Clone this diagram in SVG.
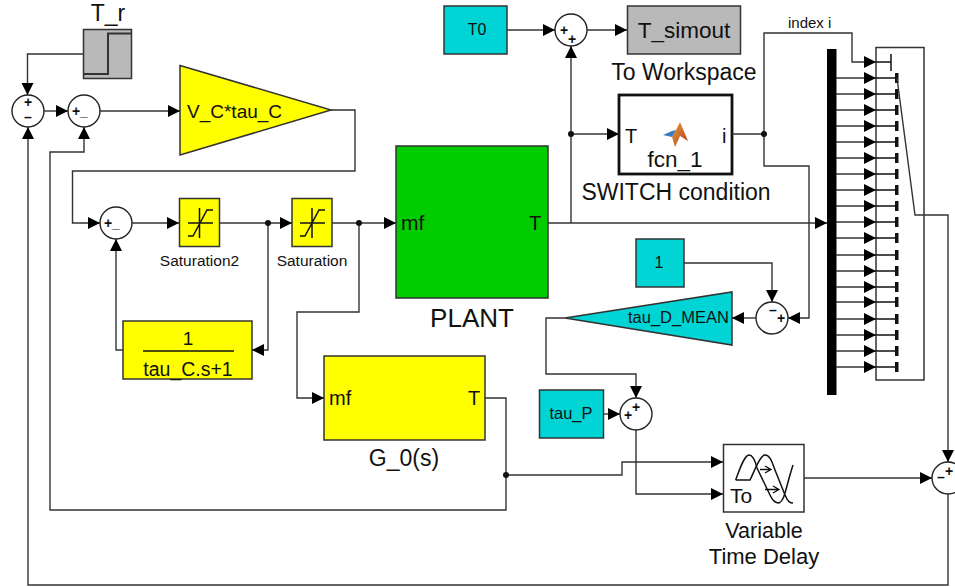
<svg xmlns="http://www.w3.org/2000/svg" width="955" height="587" viewBox="0 0 955 587">
<style>
text{font-family:"Liberation Sans",Arial,sans-serif;fill:#111}
.m{text-anchor:middle}
.b{stroke:#333;stroke-width:1.5}
.y{fill:#ffff00}.c{fill:#00d4d4}.g{fill:#b9b9b9}.w{fill:#fff}
.s{fill:#fff;stroke:#222;stroke-width:1.4}
.p{font-size:14px;text-anchor:middle;font-weight:bold}
.i{fill:none;stroke:#111;stroke-width:1.5}
.e{fill:none;stroke:#333;stroke-width:1.4;marker-end:url(#h)}
.t{fill:#111}
</style>
<defs>
<marker id="h" markerUnits="userSpaceOnUse" markerWidth="13" markerHeight="13" refX="12" refY="6" orient="auto"><path d="M0,0L12,6L0,12z" fill="#000"/></marker>
<linearGradient id="ml" x1="0" y1="0" x2="1" y2="1"><stop offset="0" stop-color="#e8a040"/><stop offset="1" stop-color="#b03a18"/></linearGradient>
</defs>
<rect width="955" height="587" fill="#fff"/>
<g id="T_r"><rect class="b g" x="83.500" y="29.500" width="48" height="49"/><path d="M84,74H108V33.500H132" fill="none" stroke="#333" stroke-width="2"/><text class="m" x="108" y="21" font-size="23">T_r</text></g>
<g id="sum1"><circle class="s" cx="28" cy="111" r="16"/><text class="p" x="28" y="107">+</text><text class="p" x="28" y="122">–</text></g>
<g id="sum2"><circle class="s" cx="84" cy="111" r="16"/><text class="p" x="76" y="116">+</text><text class="p" x="84" y="116">_</text></g>
<g id="gain"><path class="b y" d="M180,65.500L331,110L180,155z"/><text x="187" y="118" font-size="19">V_C*tau_C</text></g>
<g id="sum3"><circle class="s" cx="116" cy="223" r="16"/><text class="p" x="108" y="228">+</text><text class="p" x="116" y="228">_</text></g>
<g id="Saturation2"><rect class="b y" x="179.500" y="198.500" width="40" height="48"/><path class="i" d="M188,223H213M199.500,208V238M188,236H193L207,210H213"/><text class="m" x="199.500" y="266" font-size="15.500">Saturation2</text></g>
<g id="Saturation"><rect class="b y" x="292" y="198.500" width="40" height="48"/><path class="i" d="M300,223H325M312,208V238M300,236H305L319,210H325"/><text class="m" x="312" y="266" font-size="15.500">Saturation</text></g>
<g id="PLANT"><rect class="b" fill="#00cc00" x="396" y="146" width="152" height="152"/><text x="401" y="230" font-size="21">mf</text><text x="529" y="230" font-size="20">T</text><text class="m" x="472" y="327" font-size="26">PLANT</text></g>
<g id="tf"><rect class="b y" x="123" y="321" width="129" height="58"/><path d="M143,351H234" stroke="#111" stroke-width="1.500"/><text class="m" x="188" y="345" font-size="19">1</text><text class="m" x="188" y="376" font-size="19.500">tau_C.s+1</text></g>
<g id="G_0"><rect class="b y" x="324" y="356" width="161" height="84"/><text x="329" y="405" font-size="20">mf</text><text x="468" y="405" font-size="20">T</text><text class="m" x="404" y="466" font-size="23">G_0(s)</text></g>
<g id="T0"><rect class="b c" x="444" y="6" width="63" height="48"/><text class="m" x="477" y="35" font-size="16">T0</text></g>
<g id="sum4"><circle class="s" cx="571" cy="30" r="16"/><text class="p" x="564" y="35">+</text><text class="p" x="572" y="44">+</text></g>
<g id="T_simout"><rect class="b g" x="627.500" y="6" width="113" height="48"/><text class="m" x="684" y="38" font-size="22.500">T_simout</text><text class="m" x="684" y="80" font-size="23">To Workspace</text></g>
<g id="fcn_1"><rect x="619" y="95" width="113" height="79" fill="#fff" stroke="#111" stroke-width="2.800"/><path d="M680,122L688,141L680,136L675,147L672,137L676,130z" fill="url(#ml)"/><path d="M663,135L672,131L676,130L672,137z" fill="#3a7cc0"/><text x="625" y="143" font-size="20">T</text><text x="722" y="143" font-size="20">i</text><text class="m" x="675" y="167" font-size="22.500">fcn_1</text><text class="m" x="676" y="200" font-size="23">SWITCH condition</text></g>
<g id="const1"><rect class="b c" x="636" y="239" width="48" height="48"/><text class="m" x="659" y="268" font-size="16">1</text></g>
<g id="sum5"><circle class="s" cx="772" cy="318" r="16"/><text class="p" x="773" y="315">–</text><text class="p" x="781" y="323">+</text></g>
<g id="tau_D_MEAN"><path class="b c" d="M732,292V345L565,318z"/><text x="628" y="323" font-size="16.500">tau_D_MEAN</text></g>
<g id="tau_P"><rect class="b c" x="539.500" y="390" width="64" height="48"/><text class="m" x="571" y="419" font-size="16.500">tau_P</text></g>
<g id="sum6"><circle class="s" cx="636" cy="414" r="16"/><text class="p" x="628" y="420">+</text><text class="p" x="636" y="412">+</text></g>
<g id="delay"><rect class="b w" x="723.500" y="444.500" width="80.500" height="67.500"/><path class="i" d="M735.700,480C741,465 745,455 749,455C753,455 755,460 757,468L770,495C773,502 776,503 779,503C785,500 785,490 793,465"/><path class="i" d="M735.700,480H750C755,470 760,455 765,455C770,455 772,462 775,470L785,495C788,502 790,503 793,503"/><path d="M760,469.500H770M765,466L771,469.500L765,473M765,489.500H778M773,486L779,489.500L773,493" fill="none" stroke="#111" stroke-width="1.300"/><text x="730" y="503" font-size="21">To</text><text class="m" x="764" y="538" font-size="21.500">Variable</text><text class="m" x="764" y="564" font-size="22">Time Delay</text></g>
<g id="bus"><rect x="827" y="49" width="9.500" height="346" fill="#000"/></g>
<g id="switch"><rect class="b w" x="876" y="47.500" width="48" height="332.500"/>
<path d="M876,62H891M891,54V71" fill="none" stroke="#111" stroke-width="1.500"/>
<path fill="#111" d="M895,73h3.500v10h-3.500zM895,89h3.500v10h-3.500zM895,105h3.500v10h-3.500zM895,121h3.500v10h-3.500zM895,137h3.500v10h-3.500zM895,153h3.500v10h-3.500zM895,169h3.500v10h-3.500zM895,185h3.500v10h-3.500zM895,201h3.500v10h-3.500zM895,217h3.500v10h-3.500zM895,233h3.500v10h-3.500zM895,250h3.500v10h-3.500zM895,266h3.500v10h-3.500zM895,282h3.500v10h-3.500zM895,297h3.500v10h-3.500zM895,314h3.500v10h-3.500zM895,330h3.500v10h-3.500zM895,346h3.500v10h-3.500zM895,362h3.500v10h-3.500z"/>
<path stroke="#111" stroke-width="1.500" d="M876,78H896M876,94H896M876,110H896M876,126H896M876,142H896M876,158H896M876,174H896M876,190H896M876,206H896M876,222H896M876,238H896M876,255H896M876,271H896M876,287H896M876,302H896M876,319H896M876,335H896M876,351H896M876,367H896"/>
</g>
<g id="sum7"><circle class="s" cx="948" cy="478" r="16"/><text class="p" x="949" y="476">+</text><text class="p" x="941" y="482">–</text></g>
<g id="connectors">
<path class="e" d="M83,54H27.500V95"/>
<path class="e" d="M44,111H68"/>
<path class="e" d="M100,111H180"/>
<path class="e" d="M331,110H355V171H72.500V223H100"/>
<path class="e" d="M132,223H179"/>
<path class="e" d="M220,223H292"/>
<path class="e" d="M332,223H396"/>
<path class="e" d="M268,223V350H252"/>
<path class="e" d="M123,350H116V239"/>
<path class="e" d="M359,223V312H297V398H324"/>
<path class="e" d="M485,398H506V510H50V152H84V127"/>
<path class="e" d="M506,475H622V462H723"/>
<path class="e" d="M636,430V494H723"/>
<path class="e" d="M604,414H620"/>
<path class="e" d="M565,318H546V374H636V398"/>
<path class="e" d="M684,263H772V302"/>
<path class="e" d="M756,318H732"/>
<path class="e" d="M764,134V166H809V318H788"/>
<path class="e" d="M732,134H764V33H852V62H876"/>
<path class="e" d="M571,223V46"/>
<path class="e" d="M571,134H619"/>
<path class="e" d="M507,30H555"/>
<path class="e" d="M587,30H627"/>
<path class="e" d="M548,223H827"/>
<path class="e" d="M804,478H932"/>
<path class="e" d="M897,78L915,215H948V462"/>
<path class="e" d="M948,494V585H28V127"/>
<path class="e" d="M836,78H876"/><path class="e" d="M836,94H876"/><path class="e" d="M836,110H876"/><path class="e" d="M836,126H876"/><path class="e" d="M836,142H876"/><path class="e" d="M836,158H876"/><path class="e" d="M836,174H876"/><path class="e" d="M836,190H876"/><path class="e" d="M836,206H876"/><path class="e" d="M836,222H876"/><path class="e" d="M836,238H876"/><path class="e" d="M836,255H876"/><path class="e" d="M836,271H876"/><path class="e" d="M836,287H876"/><path class="e" d="M836,302H876"/><path class="e" d="M836,319H876"/><path class="e" d="M836,335H876"/><path class="e" d="M836,351H876"/><path class="e" d="M836,367H876"/>
<circle class="t" cx="268" cy="223" r="3"/><circle class="t" cx="359" cy="223" r="3"/><circle class="t" cx="506" cy="475" r="3"/><circle class="t" cx="571" cy="134" r="3"/><circle class="t" cx="764" cy="134" r="3"/>
<text x="788" y="28" font-size="15">index i</text>
</g>
</svg>
